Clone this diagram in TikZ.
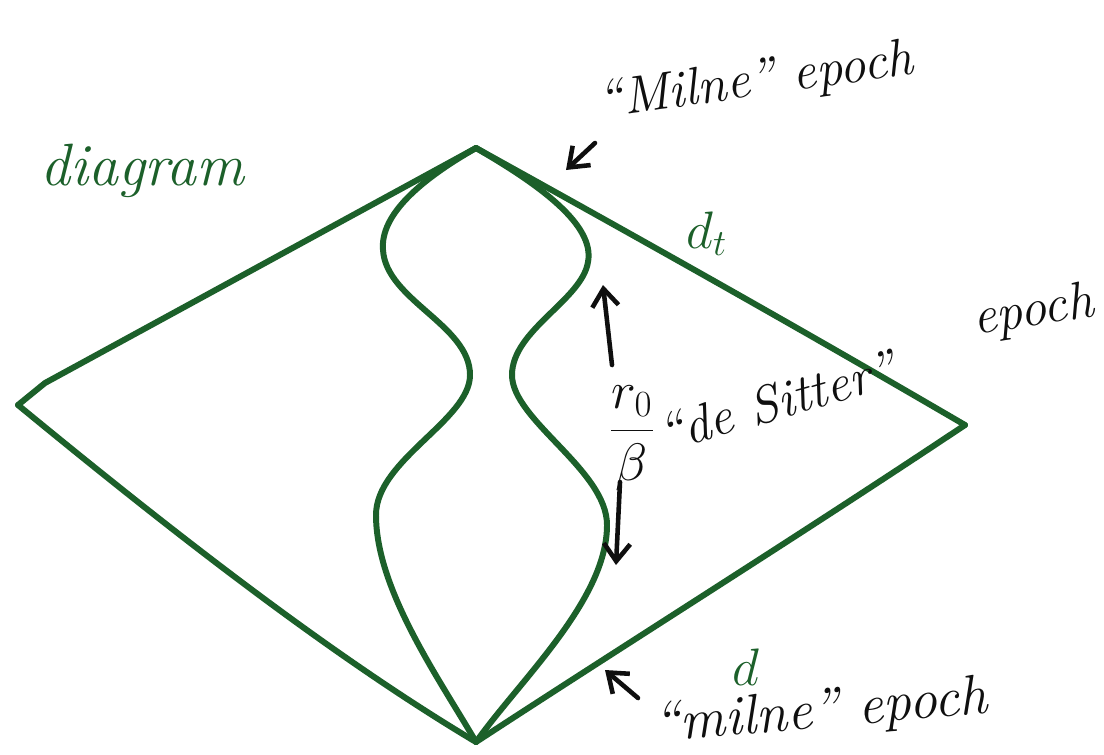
\RequirePackage{fix-cm}
\documentclass[tikz,border=0pt]{standalone}
\usepackage{tikz}
\usetikzlibrary{arrows.meta}
\definecolor{pengreen}{RGB}{28,96,42}
\definecolor{penblack}{RGB}{15,15,15}
\begin{document}
\begin{tikzpicture}[x=0.02cm,y=-0.02cm,
  edge/.style={draw=pengreen,line width=3.4pt,line cap=round,line join=round},
  ink/.style={draw=penblack,line width=2.6pt,line cap=round,-{Straight Barb[length=10pt,width=15pt]}},
  hand/.style={font=\fontsize{30}{32}\selectfont\itshape,text=penblack,inner sep=0pt},
  ghand/.style={hand,text=pengreen}]
\useasboundingbox (0,0) rectangle (1104,754);
\fill[white] (0,0) rectangle (1104,754);
% vertices
\coordinate (T) at (476,148);
\coordinate (L) at (18,405);
\coordinate (R) at (965,425);
\coordinate (B) at (476,742);
\coordinate (H) at (45,383);
% diamond
\draw[edge] (L) -- (H) -- (T);
\draw[edge] (T) .. controls (700,272) and (840,352) .. (R);
\draw[edge] (R) .. controls (800,535) and (640,635) .. (B);
\draw[edge] (B) .. controls (330,655) and (170,530) .. (L);
% peanut
\draw[edge] (T) .. controls (420,180) and (380,215) .. (383,250)
  .. controls (386,300) and (470,325) .. (470,375)
  .. controls (470,420) and (376,460) .. (376,515)
  .. controls (376,590) and (440,680) .. (B);
\draw[edge] (T) .. controls (540,185) and (595,225) .. (588,262)
  .. controls (582,300) and (512,330) .. (512,375)
  .. controls (512,420) and (607,470) .. (607,525)
  .. controls (607,600) and (520,680) .. (B);
% labels
\node[ghand,anchor=base west,font=\fontsize{34}{36}\selectfont\itshape] (diag) at (40,185) {diagram};
\node[hand,anchor=base west,rotate=8] (milnetop) at (600,118) {``Milne'' epoch};
\node[ghand,anchor=base west] (dt) at (686,248) {$d_t$};
\node[hand,anchor=base west,rotate=16] (desitter) at (664,452) {``de Sitter''};
\node[hand,anchor=base west,rotate=9] (epochds) at (975,335) {epoch};
\node[hand,anchor=center] (frac) at (632,438) {$\displaystyle\frac{r_0}{\beta}$};
\node[ghand,anchor=base west] (dbot) at (732,685) {$d$};
\node[hand,anchor=base west,rotate=5,font=\fontsize{32}{34}\selectfont\itshape] (milnebot) at (655,742) {``milne'' epoch};
% arrows
\coordinate (a1s) at (612,365); \coordinate (a1e) at (603,285);
\coordinate (a2s) at (620,482); \coordinate (a2e) at (616,565);
\coordinate (a3s) at (595,143); \coordinate (a3e) at (566,170);
\coordinate (a4s) at (638,698); \coordinate (a4e) at (605,670);
\draw[ink] (a1s) -- (a1e);
\draw[ink] (a2s) -- (a2e);
\draw[ink] (a3s) -- (a3e);
\draw[ink] (a4s) -- (a4e);
\end{tikzpicture}
\end{document}
